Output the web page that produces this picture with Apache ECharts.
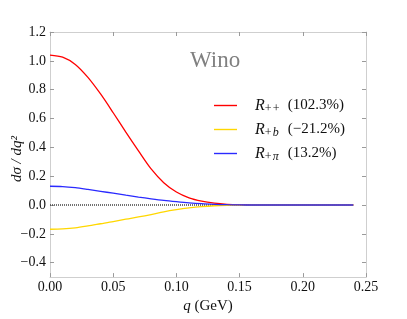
<!DOCTYPE html>
<html><head><meta charset="utf-8">
<script src="https://cdn.jsdelivr.net/npm/echarts@6/dist/echarts.min.js"></script>
<style>html,body{margin:0;padding:0;background:#fff}#c{width:407px;height:319px}</style>
</head><body><div id="c"></div>
<script>
const qValues = [0.00,0.01,0.02,0.03,0.04,0.05,0.06,0.07,0.08,0.09,0.10,0.11,0.12,0.13,0.14,0.15,0.16,0.17,0.18,0.19,0.20,0.21,0.22,0.23,0.24];
const rPP  = [1.04,1.025,0.975,0.885,0.77,0.64,0.505,0.375,0.25,0.155,0.09,0.05,0.027,0.013,0.005,0.001,0,0,0,0,0,0,0,0,0];
const rPB  = [-0.168,-0.165,-0.158,-0.145,-0.13,-0.115,-0.098,-0.083,-0.066,-0.047,-0.032,-0.02,-0.011,-0.005,-0.002,-0.0005,0,0,0,0,0,0,0,0,0];
const rPPi = [0.13,0.128,0.12,0.108,0.095,0.082,0.068,0.055,0.043,0.032,0.023,0.015,0.009,0.005,0.002,0.0005,0,0,0,0,0,0,0,0,0];
const zeroLine = [0,0,0,0,0,0,0,0,0,0,0,0,0,0,0,0,0,0,0,0,0,0,0,0,0];
const yTicks = [-0.4,-0.2,0.0,0.2,0.4,0.6,0.8,1.0,1.2];
const xTicks = [0.00,0.05,0.10,0.15,0.20,0.25];
const legendNames = ['pp','pb','ppi'];
const legendLabels = {
  pp: '{r|R}{s1|+}{s2|+}{p|(102.3%)}',
  pb: '{r|R}{s1|+}{si|b}{p|(−21.2%)}',
  ppi:'{r|R}{s1|+}{si|π}{p|(13.2%)}'
};
const pair = (arr) => qValues.map((q,i)=>[q,arr[i]]);
const SERIF = 'Liberation Serif';
const minus = v => String(v).replace('-', '−');
const chart = echarts.init(document.getElementById('c'));
const axisLineStyle = {color:'#cfcfcf', width:1};
const tickStyle = {color:'#9a9a9a', width:1};
const lineIcon = 'path://M0,0 L23,0 L23,1.4 L0,1.4 Z';
const subBase = {fontFamily:SERIF, fontSize:12, verticalAlign:'bottom', lineHeight:8, padding:[11,0,0,0]};
chart.setOption({
  animation:false,
  grid:{left:50, top:32, right:41, bottom:32},
  graphic:[
    {type:'text', left:190, top:49, style:{text:'Wino', fill:'#808080', font:'23px "Liberation Serif"'}},
    {type:'text', rotation:Math.PI/2, x:17, y:159, style:{text:'dσ / dq²', fill:'#111', font:'italic 15px "Liberation Serif"', textAlign:'center', textVerticalAlign:'middle'}}
  ],
  legend:{
    orient:'vertical', left:209, top:87, itemWidth:23, itemHeight:1.4, itemGap:1,
    icon: lineIcon,
    data:legendNames,
    formatter: n => legendLabels[n],
    textStyle:{
      color:'#111', fontFamily:SERIF, lineHeight:19,
      rich:{
        r:{fontFamily:SERIF, fontStyle:'italic', fontSize:16, padding:[0,0,0,13], lineHeight:19},
        s1:Object.assign({}, subBase, {width:8}),
        s2:Object.assign({}, subBase, {width:15}),
        si:Object.assign({}, subBase, {width:15, fontStyle:'italic'}),
        p:{fontFamily:SERIF, fontSize:15, lineHeight:19}
      }
    }
  },
  xAxis:[{
    type:'value', min:0, max:0.25, interval:0.05, position:'bottom',
    name:'{i|q} (GeV)', nameLocation:'middle', nameGap:16,
    nameTextStyle:{fontFamily:SERIF, fontSize:15, color:'#111', rich:{i:{fontFamily:SERIF, fontStyle:'italic', fontSize:15}}},
    axisLine:{show:true, onZero:false, lineStyle:axisLineStyle},
    axisTick:{show:true, inside:true, length:4, lineStyle:tickStyle},
    axisLabel:{fontFamily:SERIF, fontSize:14, color:'#111', margin:3, formatter:v=>v.toFixed(2)},
    splitLine:{show:false}
  },{
    type:'value', min:0, max:0.25, interval:0.05, position:'top',
    axisLine:{show:true, onZero:false, lineStyle:axisLineStyle},
    axisTick:{show:true, inside:true, length:4, lineStyle:tickStyle},
    axisLabel:{show:false}, splitLine:{show:false}
  }],
  yAxis:[{
    type:'value', min:-0.5, max:1.2, position:'left',
    axisLine:{show:true, onZero:false, lineStyle:axisLineStyle},
    axisTick:{show:true, inside:true, length:4, lineStyle:tickStyle, customValues:yTicks},
    axisLabel:{fontFamily:SERIF, fontSize:14, color:'#111', margin:4, customValues:yTicks, formatter:v=>minus(v.toFixed(1))},
    splitLine:{show:false}
  },{
    type:'value', min:-0.5, max:1.2, position:'right',
    axisLine:{show:true, onZero:false, lineStyle:axisLineStyle},
    axisTick:{show:true, inside:true, length:4, lineStyle:tickStyle, customValues:yTicks},
    axisLabel:{show:false}, splitLine:{show:false}
  }],
  series:[
    {name:'zero', type:'line', data:pair(zeroLine), symbol:'none', lineStyle:{color:'#444', width:1.5, type:[1,1]}, z:1},
    {name:'pp', type:'line', data:pair(rPP), smooth:0.3, symbol:'none', lineStyle:{color:'#ff0000', width:1.3}, itemStyle:{color:'#ff0000'}},
    {name:'pb', type:'line', data:pair(rPB), smooth:0.3, symbol:'none', lineStyle:{color:'#ffd700', width:1.3}, itemStyle:{color:'#ffd700'}},
    {name:'ppi', type:'line', data:pair(rPPi), smooth:0.3, symbol:'none', lineStyle:{color:'#2a2aff', width:1.3}, itemStyle:{color:'#2a2aff'}}
  ]
});
</script></body></html>
